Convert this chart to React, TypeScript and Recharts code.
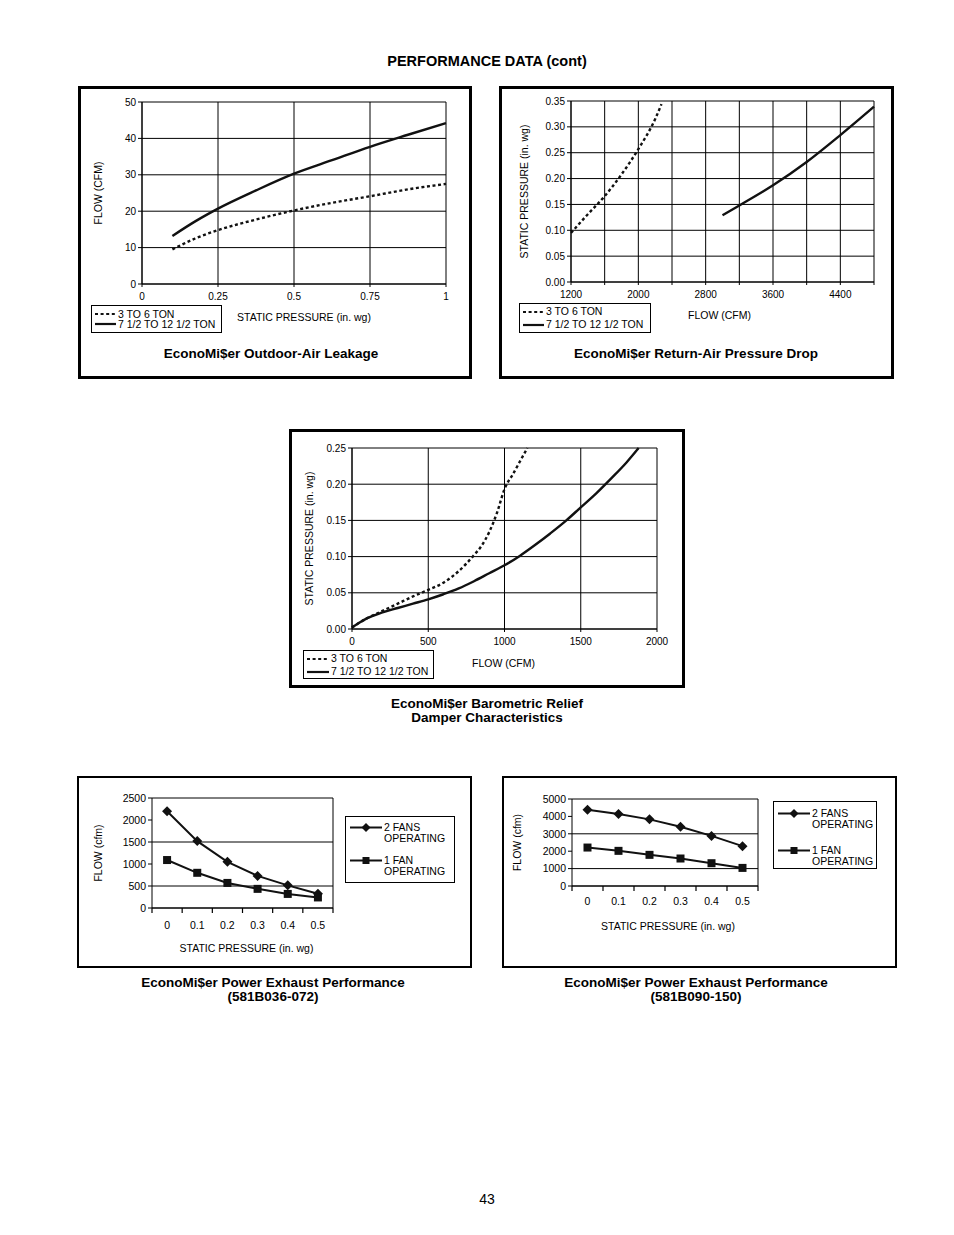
import React from "react";
import { LineChart, Line, XAxis, YAxis, CartesianGrid, Legend } from "recharts";

const FONT = "'Liberation Sans', Arial, Helvetica, sans-serif";
const INK = "#111";
const DOTTED = "3 2.6";

// EconoMi$er outdoor-air leakage
const leakPressure = [0.1, 0.175, 0.25, 0.375, 0.5, 0.625, 0.75, 0.875, 1];
const leakSmall = [9.5, 12.5, 14.8, 17.7, 20.2, 22.3, 24.1, 26.0, 27.5];
const leakLarge = [13.2, 17.2, 20.7, 25.7, 30.3, 34.0, 37.7, 41.0, 44.2];
const leakXTicks = [0, 0.25, 0.5, 0.75, 1];
const leakYTicks = [0, 10, 20, 30, 40, 50];

// EconoMi$er return-air pressure drop
const returnFlowSmall = [1200, 1400, 1600, 1800, 2000, 2200, 2275];
const returnDropSmall = [0.095, 0.131, 0.166, 0.208, 0.257, 0.315, 0.344];
const returnFlowLarge = [3000, 3200, 3600, 4000, 4400, 4800];
const returnDropLarge = [0.129, 0.148, 0.187, 0.232, 0.284, 0.339];
const returnXTicks = [1200, 1600, 2000, 2400, 2800, 3200, 3600, 4000, 4400, 4800];
const returnXLabels = [1200, 2000, 2800, 3600, 4400];
const returnYTicks = [0, 0.05, 0.1, 0.15, 0.2, 0.25, 0.3, 0.35];

// barometric relief damper
const reliefFlowSmall = [0, 50, 100, 200, 300, 400, 500, 600, 700, 800, 850, 900, 950, 1000, 1025, 1050, 1100, 1150];
const reliefDropSmall = [0.002, 0.009, 0.015, 0.025, 0.035, 0.045, 0.054, 0.064, 0.08, 0.102, 0.115, 0.134, 0.16, 0.193, 0.204, 0.212, 0.231, 0.25];
const reliefFlowLarge = [0, 50, 100, 200, 300, 400, 500, 600, 700, 800, 900, 1000, 1100, 1200, 1300, 1400, 1500, 1600, 1700, 1800, 1880];
const reliefDropLarge = [0.002, 0.009, 0.015, 0.023, 0.029, 0.035, 0.041, 0.048, 0.056, 0.066, 0.077, 0.088, 0.101, 0.116, 0.132, 0.149, 0.168, 0.187, 0.208, 0.23, 0.25];
const reliefXTicks = [0, 500, 1000, 1500, 2000];
const reliefYTicks = [0, 0.05, 0.1, 0.15, 0.2, 0.25];

// power exhaust
const exhaustPressure = ["0", "0.1", "0.2", "0.3", "0.4", "0.5"];
const smallTwoFans = [2200, 1520, 1050, 730, 515, 325];
const smallOneFan = [1090, 800, 570, 435, 320, 240];
const smallYTicks = [0, 500, 1000, 1500, 2000, 2500];
const largeTwoFans = [4380, 4140, 3830, 3400, 2880, 2290];
const largeOneFan = [2210, 2020, 1790, 1580, 1310, 1040];
const largeYTicks = [0, 1000, 2000, 3000, 4000, 5000];
const fanOrder = ["two", "one"];

const TICK = { fontSize: 10, fill: "#000" };
const LABEL = { fontSize: 10.5, fill: "#000" };

type Plot = { x0: number; y0: number; x1: number; y1: number };

const place = (p: Plot, yAxisW: number, xAxisH: number, right: number, top = 10) => ({
  left: p.x0 - yAxisW,
  top: p.y0 - top,
  width: yAxisW + (p.x1 - p.x0) + right,
  height: top + (p.y1 - p.y0) + xAxisH,
  margin: { top, right, bottom: 0, left: 0 },
});

const Panel = ({ x, y, w, h, b = 3 }: { x: number; y: number; w: number; h: number; b?: number }) => (
  <div style={{ position: "absolute", left: x, top: y, width: w, height: h, border: `${b}px solid #000`, boxSizing: "border-box" }} />
);

const Caption = ({ cx, cy, lines, size = 13.5 }: { cx: number; cy: number; lines: string[]; size?: number }) => (
  <div
    style={{
      position: "absolute",
      left: cx - 250,
      width: 500,
      top: cy - (lines.length * 14) / 2,
      textAlign: "center",
      fontWeight: "bold",
      fontSize: size,
      lineHeight: "14px",
    }}
  >
    {lines.map((l) => (
      <div key={l}>{l}</div>
    ))}
  </div>
);

const curveLegend = (rowH: number, padTop: number, sample: number) => (props: any) => (
  <div
    style={{
      border: "1px solid #000",
      boxSizing: "border-box",
      width: "100%",
      height: "100%",
      background: "#fff",
      padding: `${padTop}px 0 0 3px`,
      fontSize: 10.5,
      color: "#000",
      fontFamily: FONT,
    }}
  >
    {(props.payload || []).map((entry: any) => (
      <div key={entry.value} style={{ display: "flex", alignItems: "center", height: rowH, lineHeight: `${rowH}px`, whiteSpace: "nowrap" }}>
        <svg width={sample} height={6} style={{ marginRight: 2 }}>
          <line x1={0} y1={3} x2={sample} y2={3} stroke={INK} strokeWidth={2.2} strokeDasharray={entry.payload?.strokeDasharray} />
        </svg>
        <span>{entry.value}</span>
      </div>
    ))}
  </div>
);

function LeakageChart() {
  const p = { x0: 142, y0: 102, x1: 446, y1: 284 };
  const f = place(p, 60, 50, 15);
  const data = leakPressure.map((x, i) => ({ x, small: leakSmall[i], large: leakLarge[i] }));
  return (
    <div style={{ position: "absolute", left: f.left, top: f.top }}>
      <LineChart width={f.width} height={f.height} margin={f.margin} data={data}>
        <CartesianGrid stroke="#000" strokeWidth={1} />
        <XAxis dataKey="x" type="number" domain={[0, 1]} ticks={leakXTicks} height={50} tick={TICK} tickSize={3} tickMargin={6} stroke="#000"
          label={{ value: "STATIC PRESSURE (in. wg)", position: "insideBottom", offset: 13, dx: 10, ...LABEL }} />
        <YAxis type="number" domain={[0, 50]} ticks={leakYTicks} width={60} tick={TICK} tickSize={4} stroke="#000"
          label={{ value: "FLOW (CFM)", angle: -90, position: "insideLeft", offset: 16, style: { textAnchor: "middle" }, ...LABEL }} />
        <Line dataKey="small" name="3 TO 6 TON" type="monotone" stroke={INK} strokeWidth={2.4} strokeDasharray={DOTTED} dot={false} isAnimationActive={false} />
        <Line dataKey="large" name="7 1/2 TO 12 1/2 TON" type="monotone" stroke={INK} strokeWidth={2.4} dot={false} isAnimationActive={false} />
        <Legend layout="vertical" align="center" verticalAlign="middle" content={curveLegend(10, 3, 21)}
          wrapperStyle={{ left: 91 - f.left, top: 305 - f.top, width: 131, height: 28 }} />
      </LineChart>
    </div>
  );
}

function ReturnAirChart() {
  const p = { x0: 571, y0: 101, x1: 874, y1: 282 };
  const f = place(p, 60, 50, 15);
  const small = returnFlowSmall.map((x, i) => ({ x, y: returnDropSmall[i] }));
  const large = returnFlowLarge.map((x, i) => ({ x, y: returnDropLarge[i] }));
  return (
    <div style={{ position: "absolute", left: f.left, top: f.top }}>
      <LineChart width={f.width} height={f.height} margin={f.margin}>
        <CartesianGrid stroke="#000" strokeWidth={1} />
        <XAxis dataKey="x" type="number" domain={[1200, 4800]} ticks={returnXTicks} height={50} tick={TICK} tickSize={3} tickMargin={6} stroke="#000"
          tickFormatter={(v: number) => (returnXLabels.includes(v) ? String(v) : "")}
          label={{ value: "FLOW (CFM)", position: "insideBottom", offset: 13.5, dx: -3, ...LABEL }} />
        <YAxis dataKey="y" type="number" domain={[0, 0.35]} ticks={returnYTicks} width={60} tick={TICK} tickSize={4} stroke="#000"
          tickFormatter={(v: number) => v.toFixed(2)}
          label={{ value: "STATIC PRESSURE (in. wg)", angle: -90, position: "insideLeft", offset: 13, style: { textAnchor: "middle" }, ...LABEL }} />
        <Line data={small} dataKey="y" name="3 TO 6 TON" type="monotone" stroke={INK} strokeWidth={2.4} strokeDasharray={DOTTED} dot={false} isAnimationActive={false} />
        <Line data={large} dataKey="y" name="7 1/2 TO 12 1/2 TON" type="monotone" stroke={INK} strokeWidth={2.4} dot={false} isAnimationActive={false} />
        <Legend layout="vertical" align="center" verticalAlign="middle" content={curveLegend(13, 1, 21)}
          wrapperStyle={{ left: 519 - f.left, top: 303 - f.top, width: 132, height: 30 }} />
      </LineChart>
    </div>
  );
}

function ReliefChart() {
  const p = { x0: 352, y0: 448, x1: 657, y1: 629 };
  const f = place(p, 60, 45, 15);
  const small = reliefFlowSmall.map((x, i) => ({ x, y: reliefDropSmall[i] }));
  const large = reliefFlowLarge.map((x, i) => ({ x, y: reliefDropLarge[i] }));
  return (
    <div style={{ position: "absolute", left: f.left, top: f.top }}>
      <LineChart width={f.width} height={f.height} margin={f.margin}>
        <CartesianGrid stroke="#000" strokeWidth={1} />
        <XAxis dataKey="x" type="number" domain={[0, 2000]} ticks={reliefXTicks} height={45} tick={TICK} tickSize={3} tickMargin={6} stroke="#000"
          label={{ value: "FLOW (CFM)", position: "insideBottom", offset: 7.5, dx: -1, ...LABEL }} />
        <YAxis dataKey="y" type="number" domain={[0, 0.25]} ticks={reliefYTicks} width={60} tick={TICK} tickSize={4} stroke="#000"
          tickFormatter={(v: number) => v.toFixed(2)}
          label={{ value: "STATIC PRESSURE (in. wg)", angle: -90, position: "insideLeft", offset: 17, style: { textAnchor: "middle" }, ...LABEL }} />
        <Line data={small} dataKey="y" name="3 TO 6 TON" type="monotone" stroke={INK} strokeWidth={2.4} strokeDasharray={DOTTED} dot={false} isAnimationActive={false} />
        <Line data={large} dataKey="y" name="7 1/2 TO 12 1/2 TON" type="monotone" stroke={INK} strokeWidth={2.4} dot={false} isAnimationActive={false} />
        <Legend layout="vertical" align="center" verticalAlign="middle" content={curveLegend(13, 1, 22)}
          wrapperStyle={{ left: 303 - f.left, top: 650 - f.top, width: 131, height: 29 }} />
      </LineChart>
    </div>
  );
}

const diamond = (cx: number, cy: number, r: number) => `M${cx},${cy - r}L${cx + r},${cy}L${cx},${cy + r}L${cx - r},${cy}Z`;

const DiamondDot = (props: any) => {
  const { cx, cy, index } = props;
  if (cx == null || cy == null) return <g key={index} />;
  return <path key={index} d={diamond(cx, cy, 5)} fill={INK} />;
};

const SquareDot = (props: any) => {
  const { cx, cy, index } = props;
  if (cx == null || cy == null) return <g key={index} />;
  return <rect key={index} x={cx - 4} y={cy - 4} width={8} height={8} fill={INK} />;
};

// category tick with Excel-style marks at the band edges
const bandTick = (drop: number, count: number, plotWidth: number) => (props: any) => {
  const { x, y, payload, index } = props;
  const half = plotWidth / count / 2;
  const axisY = y - drop;
  return (
    <g>
      <line x1={x - half} y1={axisY} x2={x - half} y2={axisY + 5} stroke="#000" strokeWidth={1.2} />
      {index === count - 1 && <line x1={x + half} y1={axisY} x2={x + half} y2={axisY + 5} stroke="#000" strokeWidth={1.2} />}
      <text x={x} y={y} dy="0.71em" textAnchor="middle" fontSize={10.5} fill="#000">
        {payload?.value}
      </text>
    </g>
  );
};

const fanLegend = (rows: number[], sample: number) => (props: any) => {
  const items = [...(props.payload || [])].sort((a: any, b: any) => fanOrder.indexOf(a.dataKey) - fanOrder.indexOf(b.dataKey));
  return (
    <div
      style={{
        position: "relative",
        border: "1.5px solid #000",
        boxSizing: "border-box",
        width: "100%",
        height: "100%",
        background: "#fff",
        fontSize: 10.5,
        lineHeight: "11px",
        color: "#000",
        fontFamily: FONT,
      }}
    >
      {items.map((entry: any, i: number) => (
        <div key={entry.value} style={{ position: "absolute", left: 4, top: rows[i], display: "flex", alignItems: "flex-start" }}>
          <svg width={sample} height={11} style={{ marginRight: 2, flex: "none" }}>
            <line x1={0} y1={5.5} x2={sample} y2={5.5} stroke={INK} strokeWidth={2} />
            {entry.dataKey === "two" ? (
              <path d={diamond(sample / 2, 5.5, 4.5)} fill={INK} />
            ) : (
              <rect x={sample / 2 - 3.5} y={2} width={7} height={7} fill={INK} />
            )}
          </svg>
          <div style={{ width: 66 }}>{entry.value}</div>
        </div>
      ))}
    </div>
  );
};

function ExhaustChart({ plot, two, one, yTicks, yMax, xLabelDx, xTickMargin, legendBox, legendRows, legendSample, yLabelOffset }: {
  plot: Plot; two: number[]; one: number[]; yTicks: number[]; yMax: number; xLabelDx: number; xTickMargin: number;
  legendBox: { x: number; y: number; w: number; h: number }; legendRows: number[]; legendSample: number; yLabelOffset: number;
}) {
  const f = place(plot, 70, 55, 150);
  const data = exhaustPressure.map((p, i) => ({ p, two: two[i], one: one[i] }));
  return (
    <div style={{ position: "absolute", left: f.left, top: f.top }}>
      <LineChart width={f.width} height={f.height} margin={f.margin} data={data}>
        <CartesianGrid stroke="#000" strokeWidth={1} verticalCoordinatesGenerator={({ offset }: any) => [offset.left + offset.width]} />
        <XAxis dataKey="p" type="category" scale="band" height={55} tick={bandTick(6 + xTickMargin, exhaustPressure.length, plot.x1 - plot.x0)}
          tickLine={false} tickSize={6} tickMargin={xTickMargin} stroke="#000" interval={0}
          label={{ value: "STATIC PRESSURE (in. wg)", position: "insideBottom", offset: 11, dx: xLabelDx, ...LABEL }} />
        <YAxis type="number" domain={[0, yMax]} ticks={yTicks} width={70} tick={{ ...TICK, fontSize: 10.5 }} tickSize={4} stroke="#000"
          label={{ value: "FLOW (cfm)", angle: -90, position: "insideLeft", offset: yLabelOffset, style: { textAnchor: "middle" }, ...LABEL }} />
        <Line dataKey="two" name="2 FANS OPERATING" stroke={INK} strokeWidth={2} dot={DiamondDot} isAnimationActive={false} />
        <Line dataKey="one" name="1 FAN OPERATING" stroke={INK} strokeWidth={2} dot={SquareDot} isAnimationActive={false} />
        <Legend layout="vertical" align="center" verticalAlign="middle" content={fanLegend(legendRows, legendSample)}
          wrapperStyle={{ left: legendBox.x - f.left, top: legendBox.y - f.top, width: legendBox.w, height: legendBox.h }} />
      </LineChart>
    </div>
  );
}

export default function App() {
  return (
    <div style={{ position: "absolute", left: 0, top: 0, width: 954, height: 1235, background: "#fff", fontFamily: FONT, color: "#000" }}>
      <div style={{ position: "absolute", left: 187, width: 600, top: 52, textAlign: "center", fontWeight: "bold", fontSize: 14.5, lineHeight: "18px" }}>
        PERFORMANCE DATA (cont)
      </div>

      <Panel x={78} y={86} w={394} h={293} />
      <LeakageChart />
      <Caption cx={271} cy={354} lines={["EconoMi$er Outdoor-Air Leakage"]} />

      <Panel x={499} y={86} w={395} h={293} />
      <ReturnAirChart />
      <Caption cx={696} cy={354} lines={["EconoMi$er Return-Air Pressure Drop"]} />

      <Panel x={289} y={429} w={396} h={259} />
      <ReliefChart />
      <Caption cx={487} cy={711} lines={["EconoMi$er Barometric Relief", "Damper Characteristics"]} />

      <Panel x={77} y={776} w={395} h={192} b={2} />
      <ExhaustChart
        plot={{ x0: 152, y0: 798, x1: 333, y1: 908 }}
        two={smallTwoFans}
        one={smallOneFan}
        yTicks={smallYTicks}
        yMax={2500}
        xLabelDx={4}
        xTickMargin={8}
        legendBox={{ x: 345, y: 816, w: 110, h: 67 }}
        legendRows={[5, 38]}
        legendSample={32}
        yLabelOffset={16}
      />
      <Caption cx={273} cy={990} lines={["EconoMi$er Power Exhaust Performance", "(581B036-072)"]} />

      <Panel x={502} y={776} w={395} h={192} b={2} />
      <ExhaustChart
        plot={{ x0: 572, y0: 799, x1: 758, y1: 886 }}
        two={largeTwoFans}
        one={largeOneFan}
        yTicks={largeYTicks}
        yMax={5000}
        xLabelDx={3}
        xTickMargin={6}
        legendBox={{ x: 773, y: 801, w: 104, h: 68 }}
        legendRows={[6, 43]}
        legendSample={32}
        yLabelOffset={15}
      />
      <Caption cx={696} cy={990} lines={["EconoMi$er Power Exhaust Performance", "(581B090-150)"]} />

      <div style={{ position: "absolute", left: 437, width: 100, top: 1191, textAlign: "center", fontSize: 14, lineHeight: "16px" }}>43</div>
    </div>
  );
}
